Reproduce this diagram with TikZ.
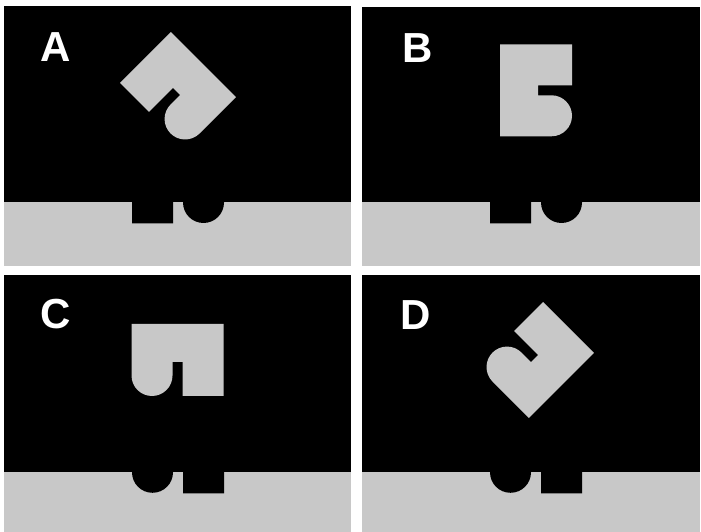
\documentclass[tikz,border=0pt]{standalone}
\usepackage{fontspec}
\setmainfont{Liberation Sans}
\definecolor{floorgray}{RGB}{200,200,200}

% key piece, upright, feature side at the bottom
\newcommand{\keyshape}{(-46,36) -- (46,36) -- (46,-36) -- (5,-36) -- (5,-2) -- (-5,-2) -- (-5,-15.5)
  arc[start angle=0, end angle=-180, radius=20.5] -- cycle}
% square hole left, round hole right
\newcommand{\floorholes}{(-46,1) rectangle (-5,-21)
  (5,1) -- (5,0) arc[start angle=180, end angle=360, radius=20.5] -- (46,1) -- cycle}

\begin{document}
\begin{tikzpicture}[x=1pt, y=1pt,
    panel/.style={fill=black},
    floor/.style={fill=floorgray},
    hole/.style={fill=black},
    piece/.style={fill=floorgray},
    tag/.style={text=white, font=\fontsize{42}{42}\selectfont\bfseries, anchor=base west, inner sep=0pt}]
  \useasboundingbox (0,0) rectangle (701,532);
  % (A) rotated, mirrored
  \fill[panel] (4,266) rectangle (351,526);
  \fill[floor] (4,266) rectangle (351,329.5);
  \fill[hole, shift={(178,329.5)}] \floorholes;
  \fill[piece, shift={(178,442)}, rotate=-45, xscale=-1] \keyshape;
  \node[tag] (tagA) at (40,470) {A};
  % (B) rotated a quarter turn
  \fill[panel] (362,266) rectangle (700,525);
  \fill[floor] (362,266) rectangle (700,329.5);
  \fill[hole, shift={(536,329.5)}] \floorholes;
  \fill[piece, shift={(536,441.7)}, rotate=90] \keyshape;
  \node[tag] (tagB) at (402,469) {B};
  % (C) upright
  \fill[panel] (4,0) rectangle (351,257);
  \fill[floor] (4,0) rectangle (351,59.7);
  \fill[hole, shift={(178,59.7)}, xscale=-1] \floorholes;
  \fill[piece, shift={(177.5,172)}] \keyshape;
  \node[tag] (tagC) at (40,203) {C};
  % (D) rotated, mirrored
  \fill[panel] (362,0) rectangle (700,257);
  \fill[floor] (362,0) rectangle (700,59.7);
  \fill[hole, shift={(536,59.7)}, xscale=-1] \floorholes;
  \fill[piece, shift={(536,172)}, rotate=225, xscale=-1] \keyshape;
  \node[tag] (tagD) at (400,202) {D};
\end{tikzpicture}
\end{document}
